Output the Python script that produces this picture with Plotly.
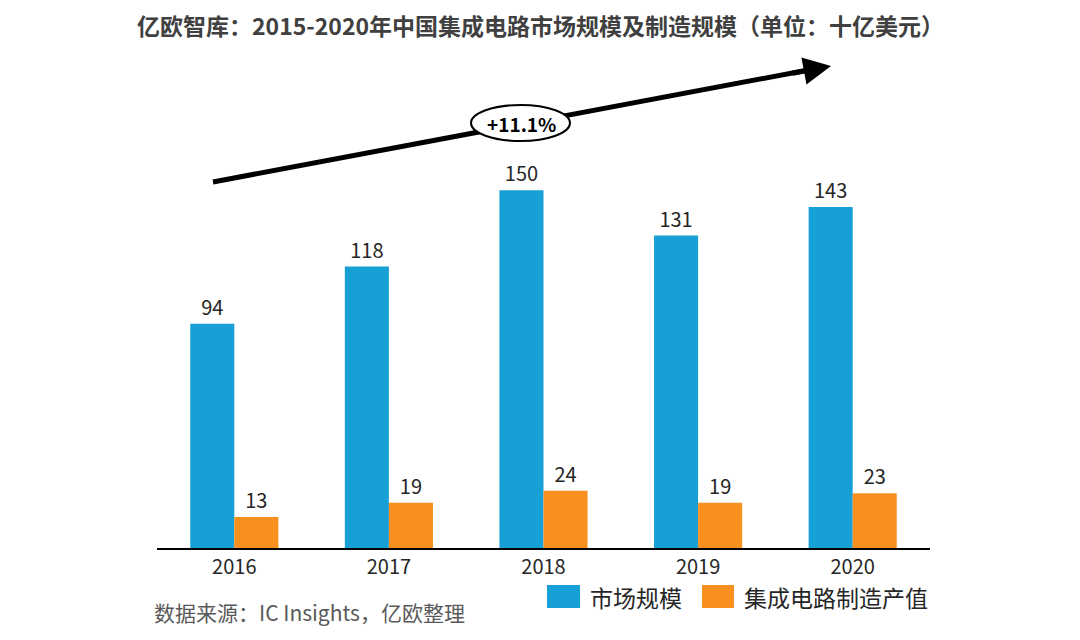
import plotly.graph_objects as go

years = ['2016', '2017', '2018', '2019', '2020']
market_size = [94, 118, 150, 131, 143]
ic_output = [13, 19, 24, 19, 23]
series_names = ['市场规模', '集成电路制造产值']
colors = ['#17a0d6', '#f7901e']
growth_label = '+11.1%'

font_family = 'Noto Sans CJK SC, Open Sans, sans-serif'

fig = go.Figure()
for name, vals, col in zip(series_names, [market_size, ic_output], colors):
    fig.add_trace(go.Bar(
        x=years, y=vals, name=name,
        marker=dict(color=col, line=dict(width=0)),
        text=vals, textposition='outside', cliponaxis=False,
        textfont=dict(size=20, color='#262626', family=font_family),
    ))

# the page puts the figure 8px in from the top-left corner (body margin),
# so all target positions below are page pixels; the figure is shrunk so it fits the window
OFF = 8
FIG_W, FIG_H = 1080 - OFF, 640 - OFF
L, R, T, B = 157, 930, 71, 548
W, H = R - L, B - T


def px(x):
    return (x - L) / W


def py(y):
    return (B - y) / H


shapes = []
annotations = []

# trend arrow: line as a shape, arrowhead as annotation
tail = (213, 182)
head = (824, 67)
shapes.append(dict(type='line', xref='paper', yref='paper',
                   x0=px(tail[0]), y0=py(tail[1]), x1=px(head[0]), y1=py(head[1]),
                   line=dict(color='black', width=5)))
annotations.append(dict(xref='paper', yref='paper', x=px(831), y=py(66), text='',
                        showarrow=True, arrowhead=2, arrowsize=1.1, arrowwidth=5,
                        arrowcolor='black', ax=-40, ay=7.5))
# ellipse with growth rate
shapes.append(dict(type='circle', xref='paper', yref='paper',
                   x0=px(471), x1=px(570), y0=py(141), y1=py(105),
                   fillcolor='white', line=dict(color='black', width=2)))
annotations.append(dict(xref='paper', yref='paper', x=px(521), y=py(123), text='<b>' + growth_label + '</b>',
                        xanchor='center', yanchor='middle',
                        showarrow=False, font=dict(size=19, color='black', family=font_family)))

# manual legend
leg_items = [(547, 580, series_names[0], colors[0]), (702, 734, series_names[1], colors[1])]
for x0, x1, name, col in leg_items:
    shapes.append(dict(type='rect', xref='paper', yref='paper',
                       x0=px(x0), x1=px(x1), y0=py(608), y1=py(585),
                       fillcolor=col, line=dict(width=0)))
    annotations.append(dict(xref='paper', yref='paper', x=px(x1 + 8), y=py(597), text=name,
                            xanchor='left', yanchor='middle', showarrow=False,
                            font=dict(size=23, color='#262626', family=font_family)))

# source note
annotations.append(dict(xref='paper', yref='paper', x=px(152), y=py(612),
                        text='数据来源：IC Insights，亿欧整理', xanchor='left', yanchor='middle',
                        showarrow=False, font=dict(size=21, color='#595959', family=font_family)))

# title as a paper annotation
annotations.append(dict(xref='paper', yref='paper', x=px(540), y=py(25),
                        text='<b>亿欧智库：2015-2020年中国集成电路市场规模及制造规模（单位：十亿美元）</b>',
                        xanchor='center', yanchor='middle', showarrow=False,
                        font=dict(size=23, color='#404040', family=font_family)))

fig.update_layout(
    width=FIG_W, height=FIG_H,
    margin=dict(l=L - OFF, r=FIG_W - (R - OFF), t=T - OFF, b=FIG_H - (B - OFF), pad=0, autoexpand=False),
    paper_bgcolor='white', plot_bgcolor='white',
    barmode='group', bargap=0.43, bargroupgap=0,
    showlegend=False,
    xaxis=dict(type='category', showgrid=False, showline=True, linecolor='black', linewidth=2,
               ticks='', tickfont=dict(size=20, color='#262626', family=font_family)),
    yaxis=dict(range=[0, 200], visible=False, showgrid=False, zeroline=False),
    shapes=shapes, annotations=annotations,
    font=dict(family=font_family),
)

fig.write_html('out.html')
